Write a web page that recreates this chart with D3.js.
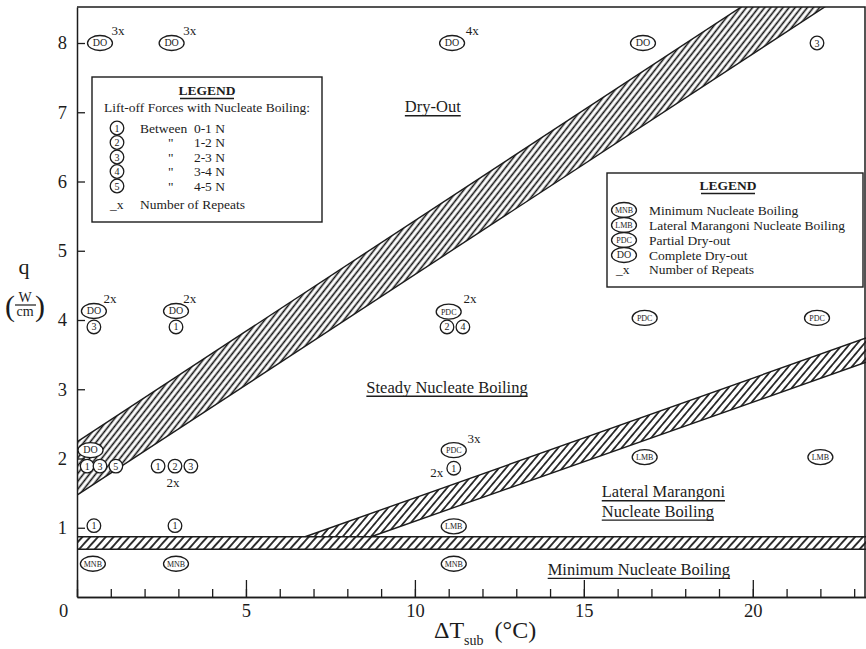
<!DOCTYPE html>
<html><head><meta charset="utf-8">
<script src="https://cdn.jsdelivr.net/npm/d3@7"></script>
<style>
html,body{margin:0;padding:0;background:#fff;}
svg{display:block;font-family:"Liberation Serif","Times New Roman",serif;}
</style></head>
<body>
<svg id="chart" width="866" height="649"></svg>
<script>
// ---------- data ----------
const xDomain = [0, 23.35];
const yDomain = [0, 8.52];
const xMinorTicks = d3.range(0, 24, 1);
const xMajorTicks = [0, 5, 10, 15, 20];
const yTicks = [1, 2, 3, 4, 5, 6, 7, 8];

// boundary bands: [upper line, lower line] as [x, q] end points
const dryOutBandUpper = [[0, 2.24], [23.35, 9.70]];
const dryOutBandLower = [[0, 1.47], [23.35, 8.91]];
const marangoniBandUpper = [[6.75, 0.87], [23.35, 3.74]];
const marangoniBandLower = [[8.7, 0.87], [23.35, 3.39]];
const minimumBandUpper = [[0, 0.87], [23.35, 0.87]];
const minimumBandLower = [[0, 0.69], [23.35, 0.69]];

// regime markers (ellipses): [ΔT, q, label]
const regimeMarkers = [
  [0.68, 8.0, "DO"], [2.8, 8.0, "DO"], [11.1, 8.0, "DO"], [16.75, 8.0, "DO"],
  [0.5, 4.13, "DO"], [2.93, 4.13, "DO"], [11.0, 4.12, "PDC"], [16.8, 4.03, "PDC"], [21.9, 4.03, "PDC"],
  [0.4, 2.12, "DO"], [11.15, 2.12, "PDC"], [16.8, 2.02, "LMB"], [22.0, 2.02, "LMB"],
  [11.15, 1.02, "LMB"],
  [0.47, 0.48, "MNB"], [2.93, 0.48, "MNB"], [11.15, 0.48, "MNB"]
];
// lift-off force markers (circles): [ΔT, q, class]
const forceMarkers = [
  [21.9, 8.0, "3"],
  [0.5, 3.9, "3"], [2.93, 3.9, "1"], [10.95, 3.9, "2"], [11.42, 3.9, "4"],
  [0.3, 1.89, "1"], [0.68, 1.89, "3"], [1.15, 1.89, "5"],
  [2.4, 1.89, "1"], [2.9, 1.89, "2"], [3.37, 1.89, "3"],
  [11.15, 1.86, "1"],
  [0.5, 1.03, "1"], [2.9, 1.03, "1"]
];
// number of repeats: [ΔT, q, text]
const repeatLabels = [
  [1.21, 8.19, "3x"], [3.34, 8.19, "3x"], [11.7, 8.19, "4x"],
  [0.98, 4.32, "2x"], [3.34, 4.32, "2x"], [11.63, 4.32, "2x"],
  [2.84, 1.66, "2x"], [11.75, 2.30, "3x"], [10.65, 1.80, "2x"]
];
// region names: [ΔT, q, text, anchor]
const regionLabels = [
  [10.53, 7.0, "Dry-Out", "middle"],
  [10.95, 2.95, "Steady Nucleate Boiling", "middle"],
  [15.53, 1.44, "Lateral Marangoni", "start"],
  [15.53, 1.16, "Nucleate Boiling", "start"],
  [13.93, 0.32, "Minimum Nucleate Boiling", "start"]
];
// legends
const forceLegendTitle = "Lift-off Forces with Nucleate Boiling:";
const forceLegendRows = [["1", "Between", "0-1 N"], ["2", "\"", "1-2 N"], ["3", "\"", "2-3 N"], ["4", "\"", "3-4 N"], ["5", "\"", "4-5 N"]];
const regimeLegendRows = [["MNB", "Minimum Nucleate Boiling"], ["LMB", "Lateral Marangoni Nucleate Boiling"], ["PDC", "Partial Dry-out"], ["DO", "Complete Dry-out"]];
const repeatsText = "Number of Repeats";

// ---------- drawing ----------
const svg = d3.select("#chart");
const ink = "#1c1c1c";
const x = d3.scaleLinear().domain(xDomain).range([77, 866]);
const y = d3.scaleLinear().domain(yDomain).range([597, 7]);

const defs = svg.append("defs");
function hatch(id, angle, gap, w) {
  const p = defs.append("pattern").attr("id", id).attr("patternUnits", "userSpaceOnUse")
    .attr("width", gap).attr("height", 10).attr("patternTransform", `rotate(${angle})`);
  p.append("rect").attr("width", gap).attr("height", 10).attr("fill", "#fff");
  p.append("line").attr("x1", gap / 2).attr("x2", gap / 2).attr("y1", -1).attr("y2", 11)
    .attr("stroke", "#111").attr("stroke-width", w);
}
hatch("h1", 38, 4.8, 1.6);
hatch("h2", 40, 5.4, 1.6);
hatch("h3", 42, 5.8, 1.7);
defs.append("clipPath").attr("id", "plotclip").append("rect")
  .attr("x", x(0)).attr("y", y(yDomain[1])).attr("width", x(xDomain[1]) - x(0)).attr("height", y(0) - y(yDomain[1]));

const bands = svg.append("g").attr("clip-path", "url(#plotclip)");
const line = d3.line().x(d => x(d[0])).y(d => y(d[1]));
function band(upper, lower, fill) {
  const poly = upper.concat(lower.slice().reverse());
  bands.append("path").attr("d", line(poly) + "Z").attr("fill", `url(#${fill})`).attr("stroke", "none");
  bands.append("path").attr("d", line(upper)).attr("fill", "none").attr("stroke", ink).attr("stroke-width", 1.4);
  bands.append("path").attr("d", line(lower)).attr("fill", "none").attr("stroke", ink).attr("stroke-width", 1.4);
}
band(dryOutBandUpper, dryOutBandLower, "h1");
band(marangoniBandUpper, marangoniBandLower, "h2");
band(minimumBandUpper, minimumBandLower, "h3");

// frame (top and right)
svg.append("path").attr("d", `M${x(0)},${y(yDomain[1])}H${x(xDomain[1]) - 1}V${y(0)}`)
  .attr("fill", "none").attr("stroke", ink).attr("stroke-width", 1.5);

// axes
const gx = svg.append("g").attr("transform", `translate(0,${y(0)})`);
gx.call(d3.axisBottom(x).tickValues(xMinorTicks).tickSizeInner(-8).tickSizeOuter(0).tickFormat(""));
const gxM = svg.append("g").attr("transform", `translate(0,${y(0)})`);
gxM.call(d3.axisBottom(x).tickValues(xMajorTicks).tickSizeInner(-17).tickSizeOuter(0).tickPadding(7).tickFormat(d3.format("d")));
gxM.selectAll(".tick text").filter(d => d === 0).attr("dx", "-14");
const gy = svg.append("g").attr("transform", `translate(${x(0)},0)`);
gy.call(d3.axisLeft(y).tickValues(yTicks).tickSizeInner(-8).tickSizeOuter(0).tickPadding(10).tickFormat(d3.format("d")));
svg.selectAll(".domain").attr("stroke", ink).attr("stroke-width", 1.5);
svg.selectAll(".tick line").attr("stroke", ink).attr("stroke-width", 1.3);
svg.selectAll(".tick text").attr("font-family", "Liberation Serif").attr("font-size", 18.5).attr("fill", ink);

// axis titles
const xt = svg.append("text").attr("x", 434).attr("y", 638).attr("font-size", 24).attr("fill", ink);
xt.append("tspan").text("ΔT");
xt.append("tspan").attr("font-size", 14).attr("dy", 7).text("sub");
xt.append("tspan").attr("dy", -7).attr("dx", 11).text("(°C)");
svg.append("text").attr("x", 24).attr("y", 274).attr("text-anchor", "middle").attr("font-size", 22).attr("fill", ink).text("q");
svg.append("text").attr("x", 25).attr("y", 302).attr("text-anchor", "middle").attr("font-size", 14).attr("fill", ink).text("W");
svg.append("line").attr("x1", 15).attr("x2", 36).attr("y1", 305).attr("y2", 305).attr("stroke", ink).attr("stroke-width", 1.2);
svg.append("text").attr("x", 25).attr("y", 316).attr("text-anchor", "middle").attr("font-size", 14).attr("fill", ink).text("cm");
svg.append("text").attr("x", 10).attr("y", 316).attr("text-anchor", "middle").attr("font-size", 30).attr("fill", ink).text("(");
svg.append("text").attr("x", 40).attr("y", 316).attr("text-anchor", "middle").attr("font-size", 30).attr("fill", ink).text(")");

// markers
function ellipseMark(g, cx, cy, label) {
  g.append("ellipse").attr("cx", cx).attr("cy", cy).attr("rx", 12.5).attr("ry", 7.5)
    .attr("fill", "#fff").attr("stroke", ink).attr("stroke-width", 1.3);
  g.append("text").attr("x", cx).attr("y", cy + 3).attr("text-anchor", "middle")
    .attr("font-size", label.length > 2 ? 8 : 10).attr("fill", ink).text(label);
}
function circleMark(g, cx, cy, label) {
  g.append("circle").attr("cx", cx).attr("cy", cy).attr("r", 6.8)
    .attr("fill", "#fff").attr("stroke", ink).attr("stroke-width", 1.3);
  g.append("text").attr("x", cx).attr("y", cy + 3.5).attr("text-anchor", "middle")
    .attr("font-size", 10).attr("fill", ink).text(label);
}
const mk = svg.append("g");
regimeMarkers.forEach(d => ellipseMark(mk, x(d[0]), y(d[1]), d[2]));
forceMarkers.forEach(d => circleMark(mk, x(d[0]), y(d[1]), d[2]));
repeatLabels.forEach(d => mk.append("text").attr("x", x(d[0])).attr("y", y(d[1]) + 5)
  .attr("text-anchor", "middle").attr("font-size", 13).attr("fill", ink).text(d[2]));

// region labels, underlined
function underlined(g, tx, ty, txt, anchor, size) {
  const t = g.append("text").attr("x", tx).attr("y", ty).attr("text-anchor", anchor)
    .attr("font-size", size).attr("fill", ink).text(txt);
  const w = t.node().getComputedTextLength();
  const x0 = anchor === "middle" ? tx - w / 2 : tx;
  g.append("line").attr("x1", x0).attr("x2", x0 + w).attr("y1", ty + 3.5).attr("y2", ty + 3.5)
    .attr("stroke", ink).attr("stroke-width", 1.4);
  return t;
}
regionLabels.forEach(d => underlined(svg, x(d[0]), y(d[1]), d[2], d[3], 16.5));

// legend 1 (lift-off forces)
const L1 = svg.append("g");
L1.append("rect").attr("x", 92).attr("y", 77).attr("width", 230).attr("height", 145)
  .attr("fill", "#fff").attr("stroke", ink).attr("stroke-width", 1.4);
underlined(L1, 207, 95, "LEGEND", "middle", 13.5).attr("font-weight", "bold");
L1.append("text").attr("x", 207).attr("y", 112).attr("text-anchor", "middle").attr("font-size", 13.5).attr("fill", ink).text(forceLegendTitle);
forceLegendRows.forEach((r, i) => {
  const cy = 128 + i * 14.5;
  circleMark(L1, 117, cy, r[0]);
  L1.append("text").attr("x", r[1] === "\"" ? 168 : 140).attr("y", cy + 4.5).attr("font-size", 13.5).attr("fill", ink).text(r[1]);
  L1.append("text").attr("x", 225).attr("y", cy + 4.5).attr("text-anchor", "end").attr("font-size", 13.5).attr("fill", ink).text(r[2]);
});
L1.append("text").attr("x", 110).attr("y", 209).attr("font-size", 13.5).attr("fill", ink).text("_x");
L1.append("text").attr("x", 140).attr("y", 209).attr("font-size", 13.5).attr("fill", ink).text(repeatsText);

// legend 2 (regimes)
const L2 = svg.append("g");
L2.append("rect").attr("x", 607).attr("y", 173).attr("width", 256).attr("height", 114)
  .attr("fill", "#fff").attr("stroke", ink).attr("stroke-width", 1.4);
underlined(L2, 728, 190, "LEGEND", "middle", 13.5).attr("font-weight", "bold");
regimeLegendRows.forEach((r, i) => {
  const cy = 210 + i * 15;
  ellipseMark(L2, 624, cy, r[0]);
  L2.append("text").attr("x", 649).attr("y", cy + 4.5).attr("font-size", 13.5).attr("fill", ink).text(r[1]);
});
L2.append("text").attr("x", 616).attr("y", 274).attr("font-size", 13.5).attr("fill", ink).text("_x");
L2.append("text").attr("x", 649).attr("y", 274).attr("font-size", 13.5).attr("fill", ink).text(repeatsText);
</script>
</body></html>
